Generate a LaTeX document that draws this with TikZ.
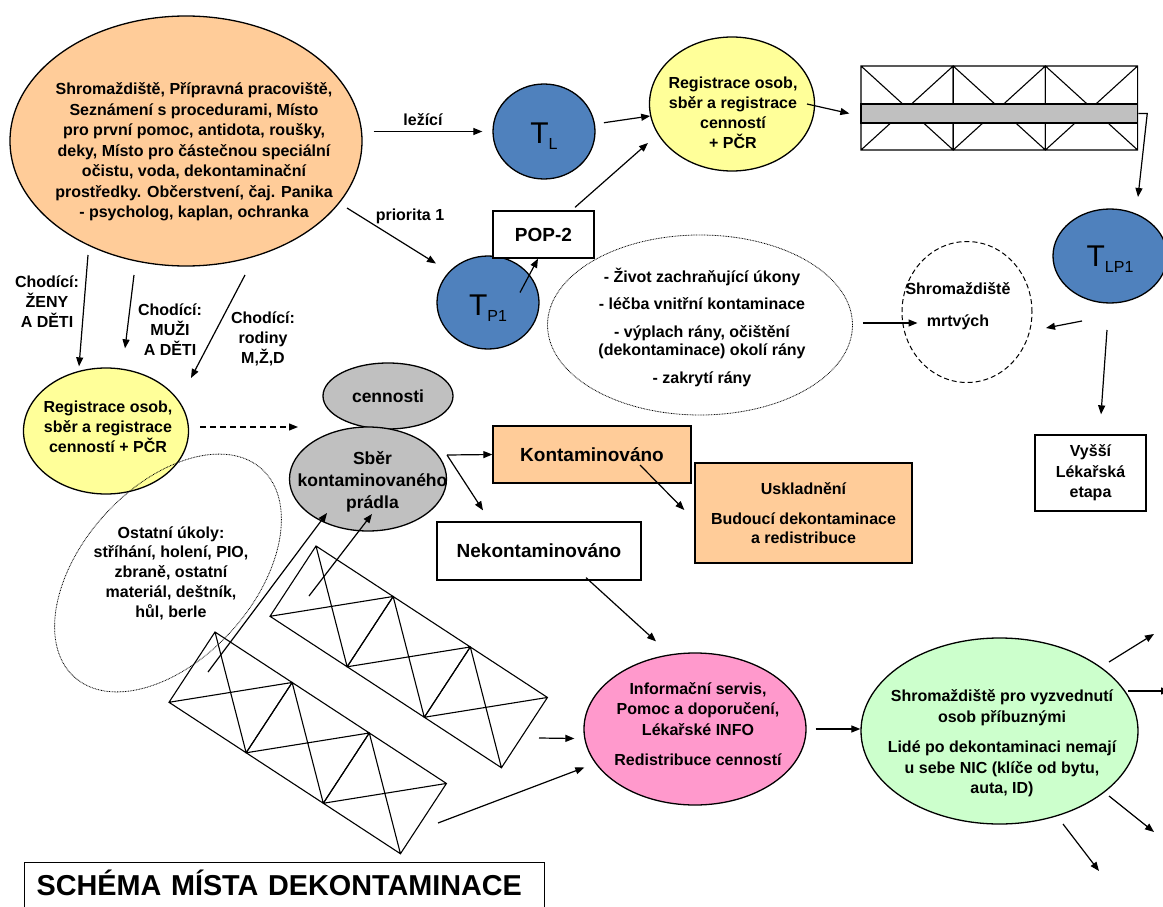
\documentclass[tikz,border=0pt]{standalone}
\usepackage{fontspec}
\setmainfont{Liberation Sans}
\usepackage{tikz}
\usetikzlibrary{arrows.meta,positioning,shapes.geometric}

\definecolor{peach}{HTML}{FFCC99}
\definecolor{lemon}{HTML}{FFFF99}
\definecolor{tblue}{HTML}{4F81BD}
\definecolor{ash}{HTML}{C0C0C0}
\definecolor{rose}{HTML}{FF99CC}
\definecolor{mint}{HTML}{CCFFCC}

% T with a lowered index, as on the triage circles
\newcommand{\tsub}[1]{{\mdseries\fontsize{30}{30}\selectfont T\raisebox{-6pt}{\fontsize{16}{16}\selectfont #1}}}

% stretcher / tent: three cells, each crossed
\tikzset{stretcher/.pic={
  \foreach \i in {0,1,2}{
    \draw[line width=1.1pt] ({92.2*\i},0) rectangle ++(92.2,84)
      ({92.2*\i},0) -- ++(92.2,84)
      ({92.2*\i},84) -- ++(92.2,-84);
  }
}}

\begin{document}
\begin{tikzpicture}[x=1pt, y=-1pt, font=\bfseries\fontsize{16}{20.5}\selectfont]
\tikzstyle{blob}=[ellipse, draw, line width=1.3pt, inner sep=0pt]
\tikzstyle{box}=[rectangle, draw, line width=1.3pt, align=center, inner sep=2pt]
\tikzstyle{txt}=[align=center, inner sep=0pt]
\tikzstyle{tee}=[blob, fill=tblue, minimum width=102pt, minimum height=95pt]
\tikzstyle{arr}=[-{Triangle[length=9pt,width=7pt]}, line width=1.2pt]
\tikzstyle{big}=[font=\bfseries\fontsize{19}{23}\selectfont]
\useasboundingbox (0,0) rectangle (1163,907);

% tents
\pic at (861,66) {stretcher};
\pic[rotate=-33.2] at (316,546) {stretcher};
\pic[rotate=-33.2] at (215,632) {stretcher};
\node[draw, fill=ash, line width=1.3pt, inner sep=0pt, minimum width=276.6pt, minimum height=19pt] (band) at (999.3,113.5) {};
\coordinate (tentAin) at (309,596);
\coordinate (tentBin) at (208,672);
\coordinate (tentAout) at (539,738);
\coordinate (tentBout) at (438,823);

% upper part
\node[blob, fill=peach, minimum width=352pt, minimum height=250pt] (sbor) at (186,141) {};
\node[txt] (sbortxt) at ([shift={(8,11)}]sbor.center) {Shromaždiště, Přípravná pracoviště,\\Seznámení s procedurami, Místo\\pro první pomoc, antidota, roušky,\\deky, Místo pro částečnou speciální\\očistu, voda, dekontaminační\\prostředky. Občerstvení, čaj. Panika\\- psycholog, kaplan, ochranka};

\node[tee] (tl) at (544,131.5) {};
\node[txt] (tltxt) at ([yshift=-4.5pt]tl.center) {\tsub{L}};
\node[blob, fill=lemon, minimum width=165pt, minimum height=134pt] (reg1) at (732,104) {};
\node[txt, font=\bfseries\fontsize{16}{20}\selectfont] (reg1txt) at ([shift={(1,8.5)}]reg1.center) {Registrace osob,\\sběr a registrace\\cenností\\+ PČR};

\node[tee, minimum width=114pt, minimum height=94pt] (tlp1) at (1110,256) {};
\node[txt] (tlp1txt) at ([yshift=-3pt]tlp1.center) {\tsub{LP1}};

\node[tee, minimum height=93pt] (tp1) at (488,302.5) {};
\node[txt] (tp1txt) at ([yshift=-6pt]tp1.center) {\tsub{P1}};
\node[box, big, fill=white, minimum width=101pt, minimum height=47pt] (pop) at (543.5,234.5) {POP-2};

\node[blob, line width=0.8pt, dash pattern=on 0.8pt off 0.8pt, minimum width=305pt, minimum height=180pt] (care) at (700,325) {};
\node[txt, font=\bfseries\fontsize{16}{18.5}\selectfont] (caretxt) at ([shift={(2,2)}]care.center) {- Život zachraňující úkony\\[9pt]- léčba vnitřní kontaminace\\[9pt]- výplach rány, očištění\\(dekontaminace) okolí rány\\[9pt]- zakrytí rány};

\node[blob, line width=1pt, dash pattern=on 5pt off 3pt, minimum width=130pt, minimum height=141pt] (dead) at (967,312) {};
\node[txt] (deadtxt) at ([shift={(-9,-6)}]dead.center) {Shromaždiště\\[11pt]mrtvých};
\node[box, fill=white, minimum width=111pt, minimum height=76pt] (higher) at (1090.5,473) {Vyšší\\Lékařská\\etapa};

\node[txt] (lying) at (423,120) {ležící};
\node[txt] (prio) at (410,216) {priorita 1};

% walking groups
\node[txt, font=\bfseries\fontsize{16}{20}\selectfont] (women) at (47,302) {Chodící:\\ŽENY\\A DĚTI};
\node[txt, font=\bfseries\fontsize{16}{20}\selectfont] (men) at (170,330) {Chodící:\\MUŽI\\A DĚTI};
\node[txt, font=\bfseries\fontsize{16}{20}\selectfont] (families) at (263,339) {Chodící:\\rodiny\\M,Ž,D};

% lower part
\node[blob, fill=lemon, minimum width=165pt, minimum height=126pt] (reg2) at (106,431) {};
\node[txt, font=\bfseries\fontsize{16}{20}\selectfont] (reg2txt) at ([shift={(2,-4)}]reg2.center) {Registrace osob,\\sběr a registrace\\cenností + PČR};

\node[blob, fill=ash, minimum width=130pt, minimum height=66pt, font=\bfseries\fontsize{17.5}{21}\selectfont] (valuables) at (388,396) {cennosti};
\node[blob, fill=ash, minimum width=157pt, minimum height=104pt] (laundry) at (368,479) {};
\node[txt, font=\bfseries\fontsize{17.5}{22}\selectfont] (laundrytxt) at ([shift={(4.5,2.5)}]laundry.center) {Sběr\\kontaminovaného\\prádla};

\node[box, big, fill=peach, minimum width=198pt, minimum height=57pt] (cont) at (592,454.5) {Kontaminováno};
\node[box, fill=peach, minimum width=217pt, minimum height=100pt, font=\bfseries\fontsize{16}{19}\selectfont] (store) at (803.5,513) {Uskladnění\\[11pt]Budoucí dekontaminace\\a redistribuce};
\node[box, big, fill=white, minimum width=204pt, minimum height=58pt] (clean) at (539,551) {Nekontaminováno};

\node[blob, line width=0.8pt, dash pattern=on 0.8pt off 0.8pt, minimum width=280pt, minimum height=172pt, rotate=48] (other) at (168,573) {};
\node[txt, font=\bfseries\fontsize{16}{19.8}\selectfont] (othertxt) at (171,573) {Ostatní úkoly:\\stříhání, holení, PIO,\\zbraně, ostatní\\materiál, deštník,\\hůl, berle};

\node[blob, fill=rose, minimum width=222pt, minimum height=152pt] (info) at (695,729) {};
\node[txt] (infotxt) at ([shift={(3,-5)}]info.center) {Informační servis,\\Pomoc a doporučení,\\Lékařské INFO\\[10pt]Redistribuce cenností};
\node[blob, fill=mint, minimum width=277pt, minimum height=186pt] (pickup) at (999.5,731) {};
\node[txt] (pickuptxt) at ([shift={(2.5,12.5)}]pickup.center) {Shromaždiště pro vyzvednutí\\osob příbuznými\\[10pt]Lidé po dekontaminaci nemají\\u sebe NIC (klíče od bytu,\\auta, ID)};

\node[draw, line width=1.3pt, anchor=north west, text width=496pt, align=left, inner xsep=12pt, inner ysep=7pt, text height=26pt, text depth=20pt, font=\bfseries\fontsize{28.8}{32}\selectfont] (title) at (24,862) {SCHÉMA MÍSTA DEKONTAMINACE};

% connectors
\draw[arr, shorten <=11pt, shorten >=10pt] (sbor.east |- tl.west) -- (tl.west);
\draw[arr, shorten <=9pt] (tl) -- (reg1);
\draw[arr] ([shift={(31.5,-3)}]pop.north) -- ([shift={(-84,39)}]reg1.center);
\draw[arr] ([xshift=75pt]reg1.center) -- ([xshift=-11pt]band.west);
\draw[arr] (band.east) -- ++(9,0) -- ([shift={(28,-59)}]tlp1.center);
\draw[arr] ([shift={(161,67)}]sbor.center) -- ([shift={(-52,-39)}]tp1.center);
\draw[arr] ([shift={(32,-10)}]tp1.center) -- ([xshift=-5.5pt]pop.south);
\draw[arr] ([shift={(10,-2)}]care.east) -- ([shift={(16,11)}]dead.west);
\draw[arr] ([shift={(-28,65)}]tlp1.center) -- ([shift={(79,16)}]dead.center);
\draw[arr] ([shift={(-3,74)}]tlp1.center) -- ([shift={(10.5,-20)}]higher.north);

\draw[arr] ([shift={(-98,114)}]sbor.center) -- ([shift={(-27,-1)}]reg2.north);
\draw[arr] ([shift={(-52,134)}]sbor.center) -- ([shift={(19,-19)}]reg2.north);
\draw[arr] ([shift={(59,134)}]sbor.center) -- ([shift={(85,-53)}]reg2.center);
\draw[arr, dash pattern=on 6pt off 4pt] ([shift={(11,-4)}]reg2.east) -- ([shift={(-70,-52)}]laundry.center);

\coordinate (fork) at ([shift={(79,-24)}]laundry.center);
\draw[arr] (fork) -- (cont.west);
\draw[arr] (fork) -- ([shift={(-56,-11)}]clean.north);
\draw[arr] ([shift={(48,10.5)}]cont.center) -- ([shift={(-10,-3)}]store.west);
\draw[arr] ([shift={(47,-3)}]clean.south) -- ([shift={(-39,-11)}]info.north);

\draw[arr] (tentBin) -- ([shift={(-41,34)}]laundry.center);
\draw[arr] (tentAin) -- ([shift={(4,35)}]laundry.center);
\draw[arr] (tentAout) -- ([shift={(-9,9.5)}]info.west);
\draw[arr] (tentBout) -- ([shift={(1,38.5)}]info.west);
\draw[arr, shorten <=9pt] (info.east) -- (info.east -| pickup.west);

% leaving the site
\draw[arr] ([shift={(109.5,-69)}]pickup.center) -- ++(45,-28);
\draw[arr] ([shift={(128.5,-40)}]pickup.center) -- ++(42,0);
\draw[arr] ([shift={(109.5,65)}]pickup.center) -- ++(45,36);
\draw[arr] ([shift={(63.5,93)}]pickup.center) -- ++(36,47);
\end{tikzpicture}
\end{document}
